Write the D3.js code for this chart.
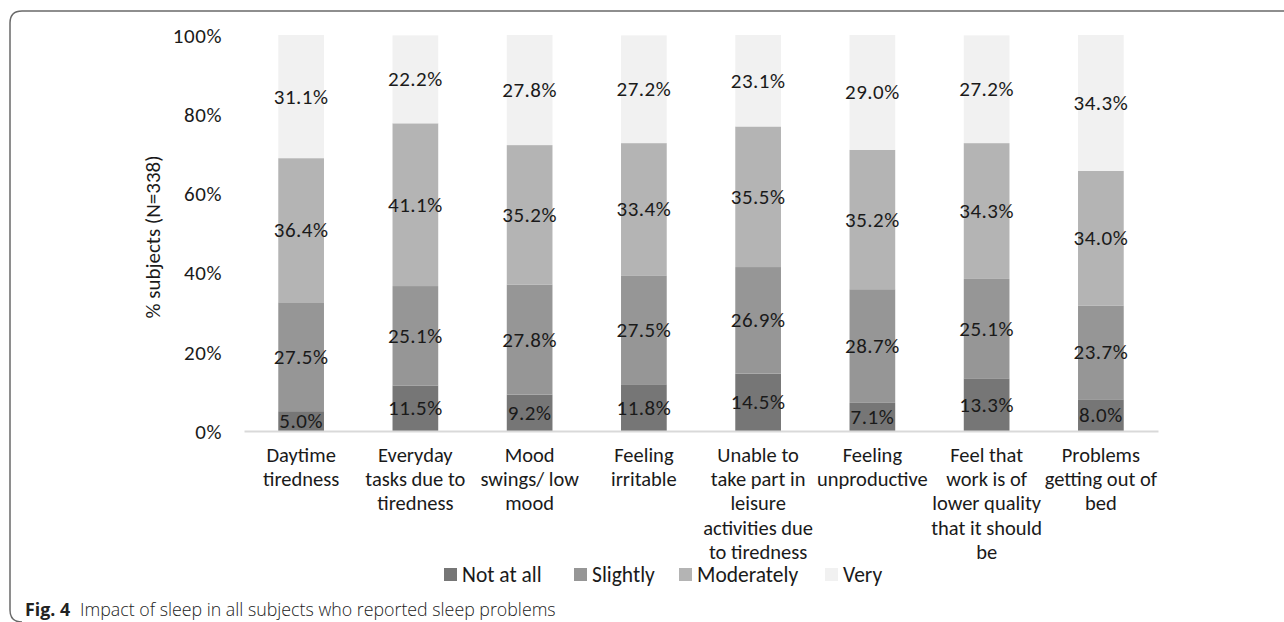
<!DOCTYPE html>
<html>
<head>
<meta charset="utf-8">
<script src="https://cdn.jsdelivr.net/npm/d3@7"></script>
<style>
  html, body { margin: 0; padding: 0; background: #fff; }
  svg { display: block; }
  .chart text { font-family: Carlito, Lato, "Open Sans", sans-serif; fill: #1a1a1a; }
  .caption { font-family: "Open Sans", "Noto Sans", sans-serif; fill: #222; }
</style>
</head>
<body>
<svg id="c" width="1284" height="622"></svg>
<script>
// ---- data ----
const categories = [
  "Daytime tiredness",
  "Everyday tasks due to tiredness",
  "Mood swings/ low mood",
  "Feeling irritable",
  "Unable to take part in leisure activities due to tiredness",
  "Feeling unproductive",
  "Feel that work is of lower quality that it should be",
  "Problems getting out of bed"
];
const categoryLines = [
  ["Daytime", "tiredness"],
  ["Everyday", "tasks due to", "tiredness"],
  ["Mood", "swings/ low", "mood"],
  ["Feeling", "irritable"],
  ["Unable to", "take part in", "leisure", "activities due", "to tiredness"],
  ["Feeling", "unproductive"],
  ["Feel that", "work is of", "lower quality", "that it should", "be"],
  ["Problems", "getting out of", "bed"]
];
const seriesNames = ["Not at all", "Slightly", "Moderately", "Very"];
const notAtAll   = [5.0, 11.5, 9.2, 11.8, 14.5, 7.1, 13.3, 8.0];
const slightly   = [27.5, 25.1, 27.8, 27.5, 26.9, 28.7, 25.1, 23.7];
const moderately = [36.4, 41.1, 35.2, 33.4, 35.5, 35.2, 34.3, 34.0];
const very       = [31.1, 22.2, 27.8, 27.2, 23.1, 29.0, 27.2, 34.3];
const yTicks = [0, 20, 40, 60, 80, 100];
const colors = ["#767676", "#969696", "#b4b4b4", "#f1f1f1"];

// ---- build table ----
const seriesValues = [notAtAll, slightly, moderately, very];
const table = categories.map((c, i) => {
  const row = { category: c };
  seriesNames.forEach((s, j) => row[s] = seriesValues[j][i]);
  return row;
});
const stacked = d3.stack().keys(seriesNames)(table);

const svg = d3.select("#c");

// border (rounded corner frame)
svg.append("path")
  .attr("d", "M1290,11 L22,11 Q10,11 10,23 L10,610 Q10,622 22,622")
  .attr("fill", "none").attr("stroke", "#6a6a6a").attr("stroke-width", 1.5);

const g = svg.append("g").attr("class", "chart");

const x = d3.scaleBand().domain(categories).range([244, 1158]).paddingInner(0.6).paddingOuter(0.3);
const y = d3.scaleLinear().domain([0, 100]).range([431, 35]);
const color = d3.scaleOrdinal().domain(seriesNames).range(colors);

// bars
const layers = g.selectAll("g.layer").data(stacked).join("g")
  .attr("class", "layer").attr("fill", d => color(d.key));
layers.selectAll("rect").data(d => d).join("rect")
  .attr("x", d => x(d.data.category))
  .attr("width", x.bandwidth())
  .attr("y", d => y(d[1]))
  .attr("height", d => y(d[0]) - y(d[1]));

// data labels
layers.selectAll("text").data(d => d.map(v => ({ v, key: d.key }))).join("text")
  .attr("x", d => x(d.v.data.category) + x.bandwidth() / 2)
  .attr("y", d => (y(d.v[0]) + y(d.v[1])) / 2)
  .attr("text-anchor", "middle")
  .attr("dominant-baseline", "central")
  .style("font-size", "21px")
  .style("letter-spacing", "0.5px")
  .text(d => d.v.data[d.key].toFixed(1) + "%");

// x axis baseline
const xAxis = d3.axisBottom(x).tickSize(0).tickFormat("");
const xa = g.append("g").attr("transform", `translate(0,${y(0)})`).call(xAxis);
xa.select(".domain").attr("stroke", "#d9d9d9").attr("stroke-width", 2);

// category labels
categories.forEach((c, i) => {
  const t = g.append("text")
    .attr("x", x(c) + x.bandwidth() / 2)
    .attr("y", 462)
    .attr("text-anchor", "middle")
    .style("font-size", "20.5px");
  categoryLines[i].forEach((ln, k) => {
    t.append("tspan").attr("x", x(c) + x.bandwidth() / 2).attr("dy", k === 0 ? 0 : 24.2).text(ln);
  });
});

// y axis
const yAxis = d3.axisLeft(y).tickValues(yTicks).tickFormat(d => d + "%").tickSize(0).tickPadding(0);
const ya = g.append("g").attr("transform", "translate(222,0)").call(yAxis);
ya.select(".domain").remove();
ya.selectAll("text").style("font-size", "21px").style("letter-spacing", "0.6px").attr("dy", "0.35em")
  .style("font-family", "Carlito, Lato, 'Open Sans', sans-serif").attr("fill", "#1a1a1a");

// y title
g.append("text")
  .attr("transform", "translate(160,237) rotate(-90)")
  .attr("text-anchor", "middle")
  .style("font-size", "21px")
  .text("% subjects (N=338)");

// legend
const legendX = [444, 574, 679, 825];
const leg = g.selectAll("g.leg").data(seriesNames).join("g")
  .attr("class", "leg")
  .attr("transform", (d, i) => `translate(${legendX[i]},582)`);
leg.append("rect").attr("x", 0).attr("y", -14).attr("width", 13).attr("height", 13)
  .attr("fill", d => color(d));
leg.append("text").attr("x", 18).attr("y", 0)
  .style("font-size", "21.5px").text(d => d);

// caption
const cap = svg.append("text").attr("class", "caption").attr("x", 25).attr("y", 616)
  .style("font-size", "17.8px");
cap.append("tspan").style("font-weight", "bold").text("Fig. 4");
cap.append("tspan").attr("dx", 10).style("font-weight", "300").text("Impact of sleep in all subjects who reported sleep problems");
</script>
</body>
</html>
